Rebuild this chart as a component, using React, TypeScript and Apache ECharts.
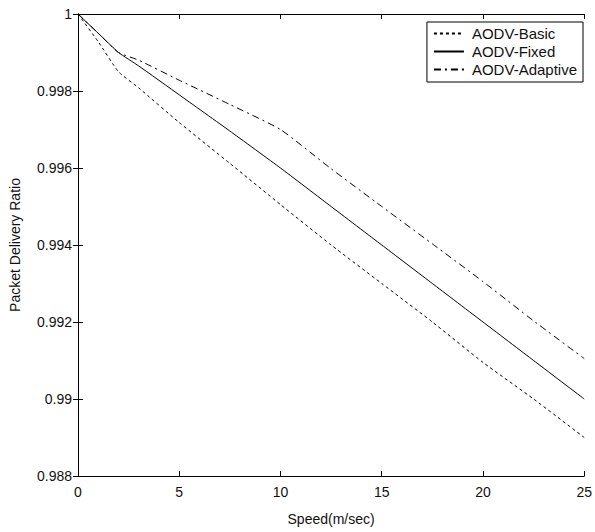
import React, { useEffect, useRef } from "react";
import * as echarts from "echarts";

const speeds = [0, 1, 2, 3, 5, 7.5, 10, 12.5, 15, 17.5, 20, 22.5, 25];
const basic = [1, 0.99928, 0.9985, 0.99808, 0.99718, 0.99612, 0.99505, 0.994, 0.993, 0.992, 0.99095, 0.99, 0.9890];
const fixed = [1, 0.9995, 0.999, 0.99865, 0.9979, 0.99696, 0.996, 0.995, 0.994, 0.993, 0.992, 0.991, 0.990];
const adaptive = [1, 0.9995, 0.999, 0.9988, 0.99828, 0.99765, 0.997, 0.99598, 0.995, 0.99403, 0.99305, 0.99203, 0.99105];
const seriesNames = ["AODV-Basic", "AODV-Fixed", "AODV-Adaptive"];
const xTicks = [0, 5, 10, 15, 20, 25];
const yTickLabels = ["0.988", "0.99", "0.992", "0.994", "0.996", "0.998", "1"];

const FONT = "Liberation Sans";

export default function App() {
  const ref = useRef<HTMLDivElement>(null);
  useEffect(() => {
    document.body.style.margin = "0";
    const chart = echarts.init(ref.current!, null, { renderer: "svg" });
    const pair = (ys: number[]) => speeds.map((x, i) => [x, ys[i]]);
    const axisLine = { show: true, lineStyle: { color: "#000", width: 1 } };
    const tick = { show: true, inside: true, length: 5, lineStyle: { color: "#000", width: 1 } };
    const yFmt = (v: number) => {
      const idx = Math.round((v - 0.988) / 0.002);
      return yTickLabels[idx] ?? "";
    };
    const txt = { fontFamily: FONT, fontSize: 14, color: "#111" };
    chart.setOption({
      animation: false,
      backgroundColor: "#fff",
      grid: { left: 75, top: 14, right: 6, bottom: 56, containLabel: false },
      legend: {
        data: seriesNames,
        orient: "vertical",
        right: 12,
        top: 22,
        itemWidth: 30,
        itemHeight: 10,
        itemGap: 3,
        padding: [4, 6, 5, 6],
        borderColor: "#000",
        borderWidth: 1,
        backgroundColor: "#fff",
        borderRadius: 0,
        itemStyle: { opacity: 0 },
        textStyle: { ...txt, fontSize: 15, lineHeight: 14, padding: [0, 0, 0, 3] },
      },
      xAxis: [
        {
          type: "value",
          min: 0,
          max: 25,
          interval: 5,
          name: "Speed(m/sec)",
          nameLocation: "middle",
          nameGap: 36,
          nameTextStyle: txt,
          axisLine,
          axisTick: tick,
          axisLabel: {
            ...txt,
            margin: 9,
            formatter: (v: number) => (xTicks.includes(v) ? String(v) : ""),
          },
          splitLine: { show: false },
        },
        {
          type: "value",
          position: "top",
          min: 0,
          max: 25,
          interval: 5,
          axisLine,
          axisTick: tick,
          axisLabel: { show: false },
          splitLine: { show: false },
        },
      ],
      yAxis: [
        {
          type: "value",
          min: 0.988,
          max: 1,
          interval: 0.002,
          name: "Packet Delivery Ratio",
          nameLocation: "middle",
          nameGap: 56,
          nameTextStyle: txt,
          axisLine,
          axisTick: tick,
          axisLabel: { ...txt, margin: 6, formatter: yFmt },
          splitLine: { show: false },
        },
        {
          type: "value",
          position: "right",
          min: 0.988,
          max: 1,
          interval: 0.002,
          axisLine,
          axisTick: tick,
          axisLabel: { show: false },
          splitLine: { show: false },
        },
      ],
      series: [
        {
          name: seriesNames[0],
          type: "line",
          data: pair(basic),
          symbol: "none",
          smooth: 0.15,
          lineStyle: { color: "#000", width: 1, type: [3, 3] },
          itemStyle: { color: "#000" },
        },
        {
          name: seriesNames[1],
          type: "line",
          data: pair(fixed),
          symbol: "none",
          smooth: 0.15,
          lineStyle: { color: "#000", width: 1, type: "solid" },
          itemStyle: { color: "#000" },
        },
        {
          name: seriesNames[2],
          type: "line",
          data: pair(adaptive),
          symbol: "none",
          smooth: 0.15,
          lineStyle: { color: "#000", width: 1, type: [7, 4, 2, 4] },
          itemStyle: { color: "#000" },
        },
      ],
    });
    return () => chart.dispose();
  }, []);
  return <div ref={ref} style={{ width: 595, height: 532 }} />;
}
